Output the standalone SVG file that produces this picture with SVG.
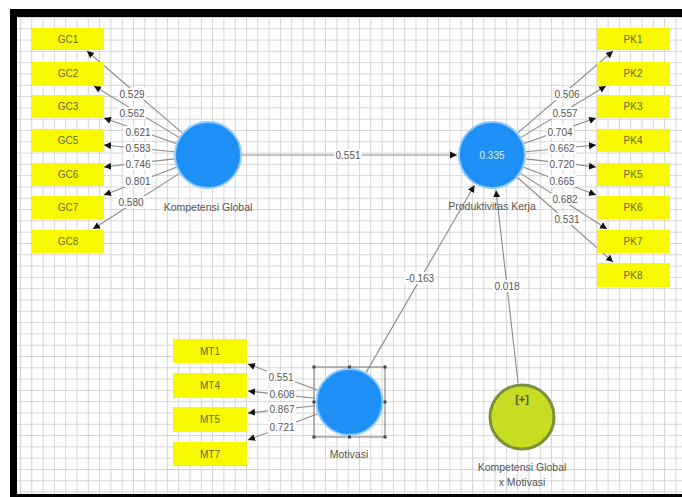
<svg xmlns="http://www.w3.org/2000/svg" width="682" height="497" viewBox="0 0 682 497">
<style>
.box{fill:#f8f800}
.boxt{font-family:"Liberation Sans",Arial,sans-serif;font-size:10px;fill:#6a6a40;text-anchor:middle}
.lat{fill:#1e8ff5;stroke:#8ccaff;stroke-width:2}
.name{font-family:"Liberation Sans",Arial,sans-serif;font-size:10.5px;fill:#555;text-anchor:middle}
.coef{font-family:"Liberation Sans",Arial,sans-serif;font-size:10px;fill:#555;text-anchor:middle}
.cbg{fill:#fff}
.ln{stroke:#8a8a8a;stroke-width:1.1;fill:none;marker-end:url(#ah)}
.hd{fill:#444}
</style>
<defs>
<pattern id="grid" patternUnits="userSpaceOnUse" x="8.7" y="5.7" width="11.3" height="11.3">
<path d="M0 0.5H11.3M0.5 0V11.3" stroke="#d4d4d4" stroke-width="1" fill="none"/>
</pattern>
<marker id="ah" markerUnits="userSpaceOnUse" markerWidth="8" markerHeight="8" refX="7" refY="4" orient="auto">
<path d="M0 0.5L7 4L0 7.5Z" fill="#111"/>
</marker>
</defs>
<rect x="0" y="0" width="682" height="497" fill="#fff"/>
<rect x="10" y="9" width="672" height="488" fill="#000"/>
<rect x="17" y="17" width="665" height="477" fill="#fff"/>
<rect x="17" y="17" width="665" height="477" fill="url(#grid)"/>

<g id="connectors">
<line class="ln" x1="242" y1="155" x2="457" y2="155"/>
<line class="ln" x1="366" y1="372.6" x2="474.5" y2="185.3"/>
<line class="ln" x1="518.1" y1="383.2" x2="496" y2="190.2"/>
<line class="ln" x1="182.2" y1="132.8" x2="87" y2="51"/>
<line class="ln" x1="179" y1="137.4" x2="94" y2="86"/>
<line class="ln" x1="176" y1="143.6" x2="104" y2="118"/>
<line class="ln" x1="174.2" y1="151.7" x2="104" y2="145"/>
<line class="ln" x1="174.2" y1="158.9" x2="104" y2="167"/>
<line class="ln" x1="176.3" y1="167.2" x2="104" y2="195"/>
<line class="ln" x1="179.4" y1="173.4" x2="93" y2="229"/>
<line class="ln" x1="517.8" y1="132.8" x2="613" y2="51"/>
<line class="ln" x1="521" y1="137.4" x2="606" y2="86"/>
<line class="ln" x1="524" y1="143.6" x2="596" y2="118"/>
<line class="ln" x1="525.8" y1="151.7" x2="596" y2="145"/>
<line class="ln" x1="525.8" y1="158.9" x2="596" y2="167"/>
<line class="ln" x1="523.7" y1="167.2" x2="596" y2="195"/>
<line class="ln" x1="520.6" y1="173.4" x2="607" y2="229"/>
<line class="ln" x1="517.5" y1="177.5" x2="613" y2="262"/>
<line class="ln" x1="317.2" y1="390" x2="248" y2="364"/>
<line class="ln" x1="315.2" y1="398.3" x2="248" y2="391"/>
<line class="ln" x1="315.2" y1="405.7" x2="248" y2="413"/>
<line class="ln" x1="317.2" y1="414" x2="248" y2="440"/>

<rect class="cbg" x="334" y="149" width="28" height="12"/><text class="coef" x="348" y="158.5">0.551</text>
<rect class="cbg" x="404" y="272" width="32" height="12"/><text class="coef" x="420" y="281.5">-0.163</text>
<rect class="cbg" x="493" y="280" width="28" height="12"/><text class="coef" x="507" y="289.5">0.018</text>

<rect class="cbg" x="118" y="88" width="28" height="12"/><text class="coef" x="132" y="97.5">0.529</text>
<rect class="cbg" x="118" y="107" width="28" height="12"/><text class="coef" x="132" y="116.5">0.562</text>
<rect class="cbg" x="124" y="126" width="28" height="12"/><text class="coef" x="138" y="135.5">0.621</text>
<rect class="cbg" x="124" y="142" width="28" height="12"/><text class="coef" x="138" y="151.5">0.583</text>
<rect class="cbg" x="124" y="158" width="28" height="12"/><text class="coef" x="138" y="167.5">0.746</text>
<rect class="cbg" x="124" y="175" width="28" height="12"/><text class="coef" x="138" y="184.5">0.801</text>
<rect class="cbg" x="117" y="196" width="28" height="12"/><text class="coef" x="131" y="205.5">0.580</text>

<rect class="cbg" x="553" y="88" width="28" height="12"/><text class="coef" x="567" y="97.5">0.506</text>
<rect class="cbg" x="551" y="107" width="28" height="12"/><text class="coef" x="565" y="116.5">0.557</text>
<rect class="cbg" x="546" y="126" width="28" height="12"/><text class="coef" x="560" y="135.5">0.704</text>
<rect class="cbg" x="548" y="142" width="28" height="12"/><text class="coef" x="562" y="151.5">0.662</text>
<rect class="cbg" x="548" y="158" width="28" height="12"/><text class="coef" x="562" y="167.5">0.720</text>
<rect class="cbg" x="548" y="175" width="28" height="12"/><text class="coef" x="562" y="184.5">0.665</text>
<rect class="cbg" x="551" y="193" width="28" height="12"/><text class="coef" x="565" y="202.5">0.682</text>
<rect class="cbg" x="553" y="213" width="28" height="12"/><text class="coef" x="567" y="222.5">0.531</text>

<rect class="cbg" x="267" y="371" width="28" height="12"/><text class="coef" x="281" y="380.5">0.551</text>
<rect class="cbg" x="268" y="388" width="28" height="12"/><text class="coef" x="282" y="397.5">0.608</text>
<rect class="cbg" x="268" y="403" width="28" height="12"/><text class="coef" x="282" y="412.5">0.867</text>
<rect class="cbg" x="268" y="421" width="28" height="12"/><text class="coef" x="282" y="430.5">0.721</text>
</g>

<g id="GC1"><rect class="box" x="32" y="28" width="72" height="22"/><text class="boxt" x="68" y="42.5">GC1</text></g>
<g id="GC2"><rect class="box" x="32" y="62" width="72" height="23"/><text class="boxt" x="68" y="77">GC2</text></g>
<g id="GC3"><rect class="box" x="32" y="95" width="72" height="23"/><text class="boxt" x="68" y="110">GC3</text></g>
<g id="GC5"><rect class="box" x="32" y="129" width="72" height="23"/><text class="boxt" x="68" y="144">GC5</text></g>
<g id="GC6"><rect class="box" x="32" y="163" width="72" height="23"/><text class="boxt" x="68" y="178">GC6</text></g>
<g id="GC7"><rect class="box" x="32" y="196" width="72" height="23"/><text class="boxt" x="68" y="211">GC7</text></g>
<g id="GC8"><rect class="box" x="32" y="230" width="72" height="23"/><text class="boxt" x="68" y="245">GC8</text></g>

<g id="PK1"><rect class="box" x="597" y="28" width="73" height="22"/><text class="boxt" x="633" y="42.5">PK1</text></g>
<g id="PK2"><rect class="box" x="597" y="62" width="73" height="23"/><text class="boxt" x="633" y="77">PK2</text></g>
<g id="PK3"><rect class="box" x="597" y="95" width="73" height="23"/><text class="boxt" x="633" y="110">PK3</text></g>
<g id="PK4"><rect class="box" x="597" y="129" width="73" height="23"/><text class="boxt" x="633" y="144">PK4</text></g>
<g id="PK5"><rect class="box" x="597" y="163" width="73" height="23"/><text class="boxt" x="633" y="178">PK5</text></g>
<g id="PK6"><rect class="box" x="597" y="196" width="73" height="23"/><text class="boxt" x="633" y="211">PK6</text></g>
<g id="PK7"><rect class="box" x="597" y="230" width="73" height="23"/><text class="boxt" x="633" y="245">PK7</text></g>
<g id="PK8"><rect class="box" x="597" y="263" width="73" height="24"/><text class="boxt" x="633" y="278.5">PK8</text></g>

<g id="MT1"><rect class="box" x="173" y="339" width="74" height="24"/><text class="boxt" x="210" y="354.5">MT1</text></g>
<g id="MT4"><rect class="box" x="173" y="373" width="74" height="25"/><text class="boxt" x="210" y="389">MT4</text></g>
<g id="MT5"><rect class="box" x="173" y="407" width="74" height="25"/><text class="boxt" x="210" y="423">MT5</text></g>
<g id="MT7"><rect class="box" x="173" y="442" width="74" height="24"/><text class="boxt" x="210" y="457.5">MT7</text></g>

<g id="KompetensiGlobal">
<circle class="lat" cx="208" cy="155" r="33"/>
<text class="name" x="208" y="211">Kompetensi Global</text>
</g>

<g id="ProduktivitasKerja">
<circle class="lat" cx="492" cy="155" r="33"/>
<text x="492" y="158.5" style="font-family:'Liberation Sans',Arial,sans-serif;font-size:10px;fill:#dcefff;text-anchor:middle">0.335</text>
<text class="name" x="492" y="210">Produktivitas Kerja</text>
</g>

<g id="Motivasi">
<rect x="314" y="367" width="71" height="70" fill="none" stroke="#777" stroke-width="1"/>
<circle class="lat" cx="349.5" cy="402" r="33"/>
<rect class="hd" x="312.5" y="365.5" width="3" height="3"/><rect class="hd" x="348" y="365.5" width="3" height="3"/><rect class="hd" x="383.5" y="365.5" width="3" height="3"/>
<rect class="hd" x="312.5" y="400.5" width="3" height="3"/><rect class="hd" x="383.5" y="400.5" width="3" height="3"/>
<rect class="hd" x="312.5" y="435.5" width="3" height="3"/><rect class="hd" x="348" y="435.5" width="3" height="3"/><rect class="hd" x="383.5" y="435.5" width="3" height="3"/>
<text class="name" x="349" y="458">Motivasi</text>
</g>

<g id="KompetensiGlobalxMotivasi">
<circle cx="522" cy="417" r="32" fill="#c9dc24" stroke="#7c8f3c" stroke-width="3"/>
<text x="522" y="403" style="font-family:'Liberation Sans',Arial,sans-serif;font-size:11px;font-weight:bold;fill:#4a5a20;text-anchor:middle">[+]</text>
<text class="name" x="522" y="471">Kompetensi Global</text>
<text class="name" x="522" y="486">x Motivasi</text>
</g>
</svg>
